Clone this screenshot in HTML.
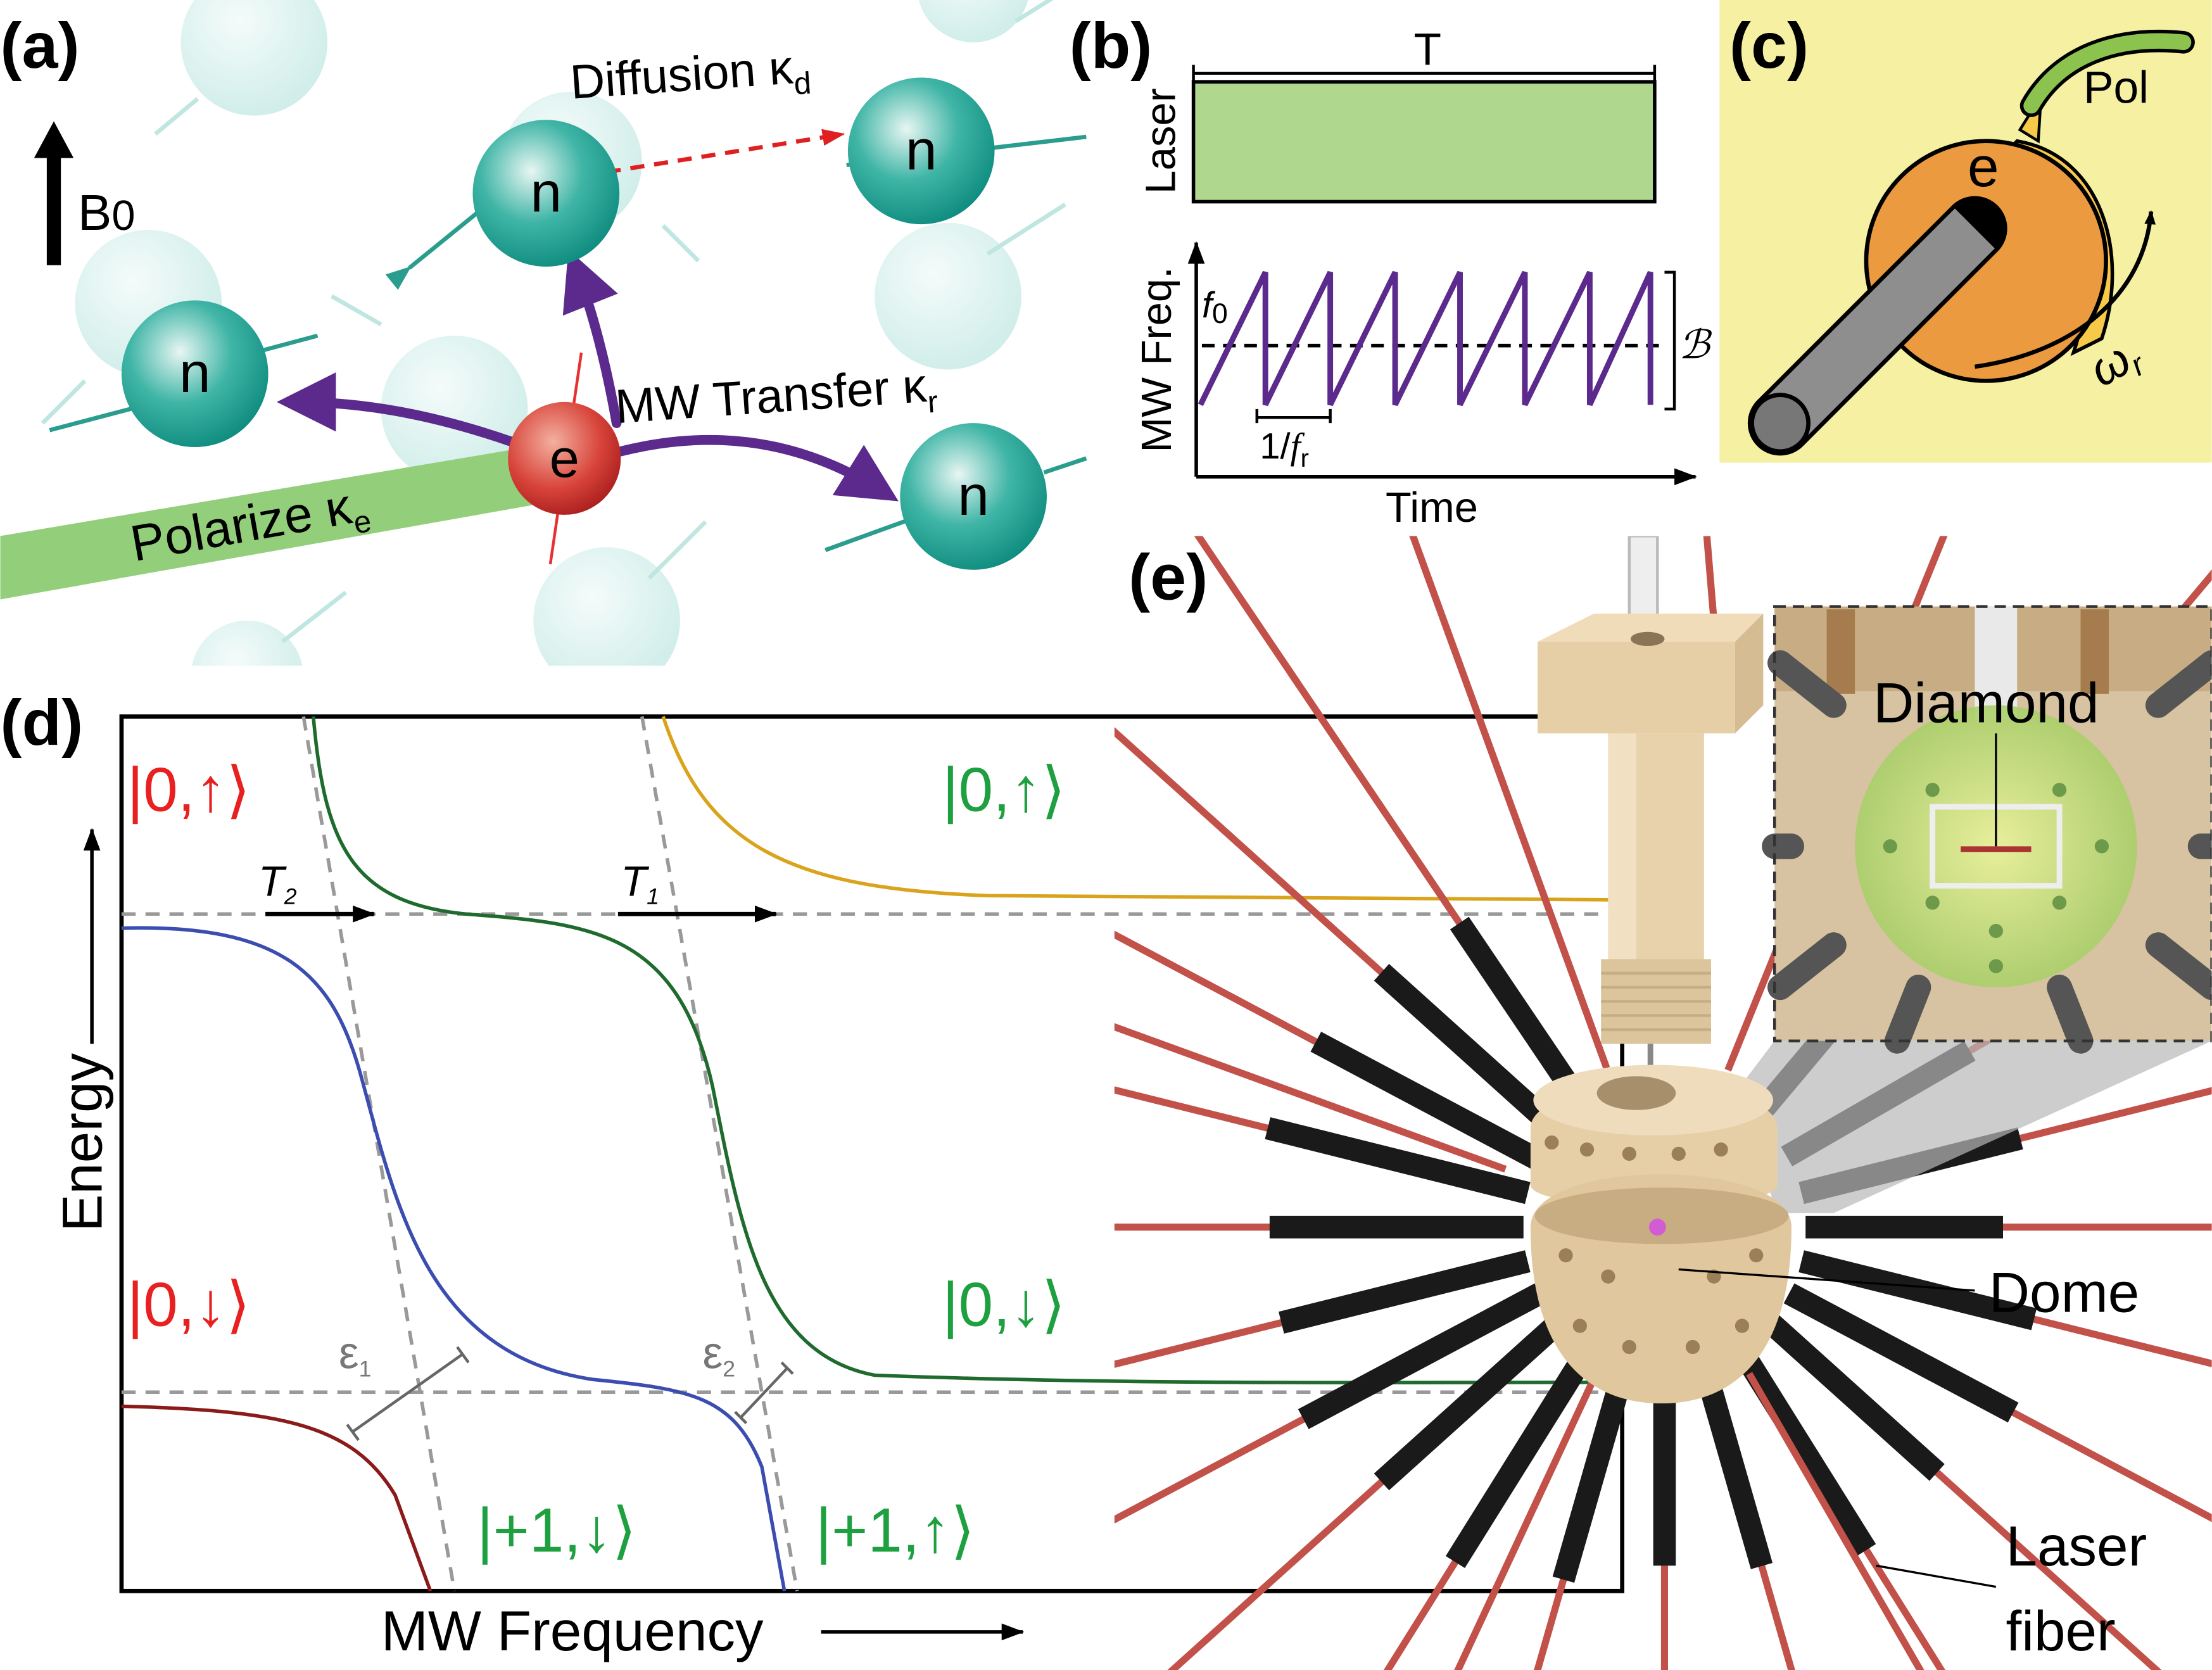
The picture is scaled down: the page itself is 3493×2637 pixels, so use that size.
<!DOCTYPE html>
<html><head><meta charset="utf-8"><style>html,body{margin:0;padding:0;background:#fff;overflow:hidden;width:3493px;height:2637px}svg{display:block}text{font-family:"Liberation Sans",sans-serif}</style></head>
<body>
<svg width="3493" height="2637" viewBox="0 0 1568 1184" xmlns="http://www.w3.org/2000/svg">
<defs>
<radialGradient id="tg" cx="0.4" cy="0.35" r="0.7"><stop offset="0" stop-color="#e8f6f3"/><stop offset="0.5" stop-color="#3fb5a6"/><stop offset="1" stop-color="#0c8a7d"/></radialGradient>
<radialGradient id="rg" cx="0.4" cy="0.35" r="0.7"><stop offset="0" stop-color="#f3b0a0"/><stop offset="0.6" stop-color="#d8443a"/><stop offset="1" stop-color="#a81d1d"/></radialGradient>
<radialGradient id="fg" cx="0.4" cy="0.35" r="0.7"><stop offset="0" stop-color="#f3fbfa"/><stop offset="1" stop-color="#c9ebe6"/></radialGradient>
<radialGradient id="gs" cx="0.5" cy="0.5" r="0.5"><stop offset="0" stop-color="#eaf39a"/><stop offset="1" stop-color="#a9cf6a"/></radialGradient>
<clipPath id="ce"><rect x="790" y="380" width="778" height="804"/></clipPath>
<clipPath id="ca"><rect x="0" y="0" width="780" height="472"/></clipPath>
<marker id="pa" markerWidth="6" markerHeight="6" refX="4" refY="3" orient="auto" markerUnits="strokeWidth"><path d="M0,0 L6,3 L0,6 Z" fill="#5b2a8c"/></marker>
<marker id="ka" markerWidth="10" markerHeight="8" refX="9" refY="4" orient="auto" markerUnits="userSpaceOnUse"><path d="M0,0 L10,4 L0,8 Z" fill="#000"/></marker>
<marker id="kb" markerWidth="16" markerHeight="12" refX="15" refY="6" orient="auto" markerUnits="userSpaceOnUse"><path d="M0,0 L16,6 L0,12 Z" fill="#000"/></marker>
<marker id="ra" markerWidth="16" markerHeight="12" refX="15" refY="6" orient="auto" markerUnits="userSpaceOnUse"><path d="M0,0 L16,6 L0,12 Z" fill="#e02020"/></marker>
<marker id="ta" markerWidth="18" markerHeight="14" refX="2" refY="7" orient="auto" markerUnits="userSpaceOnUse"><path d="M18,0 L0,7 L18,14 Z" fill="#2a9d8f"/></marker>
</defs>

<!-- Panel a -->
<g clip-path="url(#ca)">
<g fill="url(#fg)" opacity="0.9">
<circle cx="180" cy="30" r="52"/><circle cx="405" cy="115" r="50"/><circle cx="105" cy="215" r="52"/><circle cx="322" cy="290" r="52"/><circle cx="672" cy="210" r="52"/><circle cx="430" cy="440" r="52"/><circle cx="175" cy="480" r="40"/><circle cx="690" cy="-10" r="40"/>
</g>
<g stroke="#bfe6e0" stroke-width="3" fill="none">
<line x1="140" y1="70" x2="110" y2="95"/><line x1="470" y1="160" x2="495" y2="185"/><line x1="700" y1="180" x2="755" y2="145"/><line x1="270" y1="230" x2="235" y2="210"/><line x1="460" y1="410" x2="500" y2="370"/><line x1="200" y1="455" x2="245" y2="420"/><line x1="60" y1="270" x2="30" y2="300"/><line x1="720" y1="15" x2="760" y2="-10"/>
</g>
<polygon points="0,380 368,318 378,358 0,425" fill="#93cf7a"/>
<text x="95" y="398" font-size="36" transform="rotate(-10 95 398)">Polarize κ<tspan font-size="22" dy="8">e</tspan></text>
<line x1="380" y1="117" x2="290" y2="190" stroke="#2a9d8f" stroke-width="3" marker-end="url(#ta)"/>
<line x1="600" y1="117" x2="770" y2="97" stroke="#2a9d8f" stroke-width="3"/>
<line x1="130" y1="280" x2="35" y2="305" stroke="#2a9d8f" stroke-width="3"/>
<line x1="180" y1="250" x2="225" y2="238" stroke="#2a9d8f" stroke-width="3"/>
<line x1="690" y1="352" x2="585" y2="390" stroke="#2a9d8f" stroke-width="3"/>
<line x1="740" y1="335" x2="770" y2="325" stroke="#2a9d8f" stroke-width="3"/>
<line x1="430" y1="122" x2="598" y2="95" stroke="#e02020" stroke-width="3" stroke-dasharray="10,7" marker-end="url(#ra)"/>
<line x1="390" y1="400" x2="412" y2="250" stroke="#e83030" stroke-width="2"/>
<g stroke="#5b2a8c" stroke-width="7" fill="none" stroke-linecap="round">
<path d="M437,300 C430,260 420,220 408,190" marker-end="url(#pa)"/>
<path d="M362,313 C310,295 260,285 210,285" marker-end="url(#pa)"/>
<path d="M440,320 C520,300 580,320 625,348" marker-end="url(#pa)"/>
</g>
<circle cx="387" cy="137" r="52" fill="url(#tg)"/><text x="387" y="150" font-size="40" text-anchor="middle">n</text>
<circle cx="653" cy="107" r="52" fill="url(#tg)"/><text x="653" y="120" font-size="40" text-anchor="middle">n</text>
<circle cx="138" cy="265" r="52" fill="url(#tg)"/><text x="138" y="278" font-size="40" text-anchor="middle">n</text>
<circle cx="690" cy="352" r="52" fill="url(#tg)"/><text x="690" y="365" font-size="40" text-anchor="middle">n</text>
<circle cx="400" cy="325" r="40" fill="url(#rg)"/><text x="400" y="338" font-size="38" text-anchor="middle">e</text>
<text x="405" y="70" font-size="34" transform="rotate(-4 405 70)">Diffusion κ<tspan font-size="22" dy="8">d</tspan></text>
<text x="437" y="300" font-size="34" transform="rotate(-4 437 300)">MW Transfer κ<tspan font-size="22" dy="8">r</tspan></text>
<line x1="38" y1="188" x2="38" y2="110" stroke="#000" stroke-width="10"/>
<polygon points="24,112 38,86 52,112" fill="#000"/>
<text x="55" y="163" font-size="36">B<tspan font-size="30">0</tspan></text>
</g>
<text x="0" y="48" font-size="46" font-weight="bold">(a)</text>

<!-- Panel b -->
<text x="758" y="48" font-size="46" font-weight="bold">(b)</text>
<line x1="846" y1="52" x2="1173" y2="52" stroke="#000" stroke-width="2"/>
<line x1="846" y1="46" x2="846" y2="58" stroke="#000" stroke-width="2"/><line x1="1173" y1="46" x2="1173" y2="58" stroke="#000" stroke-width="2"/>
<text x="1012" y="46" font-size="32" text-anchor="middle">T</text>
<rect x="846" y="58" width="327" height="85" fill="#b0d78e" stroke="#000" stroke-width="2.5"/>
<text x="833" y="100" font-size="30" text-anchor="middle" transform="rotate(-90 833 100)">Laser</text>
<line x1="848" y1="338" x2="848" y2="172" stroke="#000" stroke-width="2.5" marker-end="url(#kb)"/>
<line x1="848" y1="338" x2="1202" y2="338" stroke="#000" stroke-width="2.5" marker-end="url(#kb)"/>
<text x="830" y="255" font-size="30" text-anchor="middle" transform="rotate(-90 830 255)">MW Freq.</text>
<line x1="852" y1="245" x2="1178" y2="245" stroke="#000" stroke-width="2.5" stroke-dasharray="9,6"/>
<polyline points="851,287 897,193 897,287 943,193 943,287 989,193 989,287 1035,193 1035,287 1081,193 1081,287 1127,193 1127,287 1170,193 1170,287" fill="none" stroke="#5b2a8c" stroke-width="4"/>
<path d="M1180,193 L1187,193 L1187,290 L1180,290" fill="none" stroke="#000" stroke-width="2"/>
<text x="1190" y="254" font-size="28" font-style="italic" font-family="Liberation Serif">ℬ</text>
<text x="852" y="225" font-size="26" font-style="italic" font-family="Liberation Serif">f<tspan font-size="20" font-style="normal" dy="4">0</tspan></text>
<path d="M891,290 L891,300 M891,296 L943,296 M943,290 L943,300" stroke="#000" stroke-width="2" fill="none"/>
<text x="893" y="325" font-size="26">1/<tspan font-style="italic" font-family="Liberation Serif">f</tspan><tspan font-size="18" dy="6">r</tspan></text>
<text x="1015" y="370" font-size="30" text-anchor="middle">Time</text>

<!-- Panel c -->
<rect x="1219" y="0" width="349" height="328" fill="#f6f0a2"/>
<text x="1226" y="48" font-size="46" font-weight="bold">(c)</text>
<path d="M1430,100 C1490,110 1510,180 1490,240 L1470,250 C1490,190 1470,130 1420,110 Z" fill="#f7c948" stroke="#000" stroke-width="2.5"/>
<circle cx="1408" cy="185" r="85" fill="#eb9a3f" stroke="#000" stroke-width="3"/>
<path d="M1432,92 L1447,68 L1445,100 Z" fill="#f7c948" stroke="#000" stroke-width="2"/>
<path d="M1440,75 C1460,40 1500,25 1548,30" fill="none" stroke="#000" stroke-width="16" stroke-linecap="round"/>
<path d="M1440,75 C1460,40 1500,25 1548,30" fill="none" stroke="#8cc34e" stroke-width="11" stroke-linecap="round"/>
<text x="1477" y="73" font-size="32">Pol</text>
<text x="1406" y="132" font-size="40" text-anchor="middle">e</text>
<line x1="1262" y1="300" x2="1400" y2="162" stroke="#000" stroke-width="46" stroke-linecap="round"/>
<line x1="1262" y1="300" x2="1400" y2="162" stroke="#8e8e8e" stroke-width="40" stroke-linecap="butt"/>
<ellipse cx="1262" cy="300" rx="20" ry="20" fill="#777" stroke="#000" stroke-width="3"/>
<path d="M1400,260 C1470,250 1520,210 1525,150" fill="none" stroke="#000" stroke-width="3" marker-end="url(#ka)"/>
<text x="1490" y="275" font-size="34" font-style="italic" font-family="Liberation Serif" transform="rotate(-30 1490 275)">ω<tspan font-size="22" dy="6">r</tspan></text>

<!-- Panel d -->
<text x="0" y="528" font-size="46" font-weight="bold">(d)</text>
<rect x="86" y="508" width="1064" height="620" fill="#fff" stroke="#000" stroke-width="3"/>
<g stroke="#999" stroke-width="2.5" stroke-dasharray="10,7" fill="none">
<line x1="86" y1="648" x2="1150" y2="648"/><line x1="86" y1="987" x2="1150" y2="987"/>
<line x1="215" y1="508" x2="322" y2="1128"/><line x1="455" y1="508" x2="565" y2="1128"/>
</g>
<g fill="none" stroke-width="2.5">
<path d="M86,658 C200,655 235,690 255,760 C280,850 300,960 420,978 C490,985 520,990 540,1040 L556,1128" stroke="#3b4db0"/>
<path d="M222,508 C230,600 250,640 330,648 C420,655 480,660 505,770 C525,870 540,960 620,975 C800,982 1000,980 1150,980" stroke="#1f6b2e"/>
<path d="M470,508 C500,600 560,630 700,635 L1150,638" stroke="#d9a31c"/>
<path d="M86,997 C200,1000 250,1010 280,1060 L305,1128" stroke="#8b1a1a"/>
</g>
<g stroke="#666" stroke-width="2"><line x1="250" y1="1015" x2="328" y2="960"/><line x1="246" y1="1010" x2="254" y2="1021"/><line x1="324" y1="955" x2="332" y2="966"/>
<line x1="525" y1="1005" x2="558" y2="970"/><line x1="521" y1="1001" x2="529" y2="1009"/><line x1="554" y1="966" x2="562" y2="974"/></g>
<text x="240" y="970" font-size="32" fill="#777" font-family="Liberation Serif">ε<tspan font-size="16" dy="6">1</tspan></text>
<text x="498" y="970" font-size="32" fill="#777" font-family="Liberation Serif">ε<tspan font-size="16" dy="6">2</tspan></text>
<line x1="188" y1="648" x2="265" y2="648" stroke="#000" stroke-width="3" marker-end="url(#kb)"/>
<line x1="438" y1="648" x2="550" y2="648" stroke="#000" stroke-width="3" marker-end="url(#kb)"/>
<text x="183" y="635" font-size="30" font-style="italic" font-family="Liberation Serif">T<tspan font-size="16" dy="6">2</tspan></text>
<text x="440" y="635" font-size="30" font-style="italic" font-family="Liberation Serif">T<tspan font-size="16" dy="6">1</tspan></text>
<g font-size="44">
<text x="90" y="575" fill="#e8201f">|0,<tspan font-weight="bold">↑</tspan>⟩</text>
<text x="668" y="575" fill="#1ea040">|0,<tspan font-weight="bold">↑</tspan>⟩</text>
<text x="90" y="940" fill="#e8201f">|0,<tspan font-weight="bold">↓</tspan>⟩</text>
<text x="668" y="940" fill="#1ea040">|0,<tspan font-weight="bold">↓</tspan>⟩</text>
<text x="338" y="1100" fill="#1ea040">|+1,<tspan font-weight="bold">↓</tspan>⟩</text>
<text x="578" y="1100" fill="#1ea040">|+1,<tspan font-weight="bold">↑</tspan>⟩</text>
</g>
<text x="72" y="810" font-size="40" text-anchor="middle" transform="rotate(-90 72 810)">Energy</text>
<line x1="65" y1="740" x2="65" y2="588" stroke="#000" stroke-width="2.5" marker-end="url(#kb)"/>
<text x="270" y="1170" font-size="40">MW Frequency</text>
<line x1="582" y1="1157" x2="725" y2="1157" stroke="#000" stroke-width="2.5" marker-end="url(#kb)"/>

<!-- Panel e -->
<text x="800" y="425" font-size="46" font-weight="bold">(e)</text>
<g clip-path="url(#ce)">
<g stroke-linecap="butt">
<g transform="rotate(0 1180 870)"><line x1="1300" y1="870" x2="2000" y2="870" stroke="#c2514a" stroke-width="5"/><line x1="1280" y1="870" x2="1420" y2="870" stroke="#1a1a1a" stroke-width="16"/></g>
<g transform="rotate(14 1180 870)"><line x1="1300" y1="870" x2="2000" y2="870" stroke="#c2514a" stroke-width="5"/><line x1="1280" y1="870" x2="1450" y2="870" stroke="#1a1a1a" stroke-width="16"/></g>
<g transform="rotate(28 1180 870)"><line x1="1300" y1="870" x2="2000" y2="870" stroke="#c2514a" stroke-width="5"/><line x1="1280" y1="870" x2="1460" y2="870" stroke="#1a1a1a" stroke-width="16"/></g>
<g transform="rotate(42 1180 870)"><line x1="1300" y1="870" x2="2000" y2="870" stroke="#c2514a" stroke-width="5"/><line x1="1280" y1="870" x2="1440" y2="870" stroke="#1a1a1a" stroke-width="16"/></g>
<g transform="rotate(58 1180 870)"><line x1="1300" y1="870" x2="2000" y2="870" stroke="#c2514a" stroke-width="5"/><line x1="1280" y1="870" x2="1450" y2="870" stroke="#1a1a1a" stroke-width="16"/></g>
<g transform="rotate(74 1180 870)"><line x1="1300" y1="870" x2="2000" y2="870" stroke="#c2514a" stroke-width="5"/><line x1="1280" y1="870" x2="1430" y2="870" stroke="#1a1a1a" stroke-width="16"/></g>
<g transform="rotate(90 1180 870)"><line x1="1300" y1="870" x2="2000" y2="870" stroke="#c2514a" stroke-width="5"/><line x1="1280" y1="870" x2="1420" y2="870" stroke="#1a1a1a" stroke-width="16"/></g>
<g transform="rotate(106 1180 870)"><line x1="1300" y1="870" x2="2000" y2="870" stroke="#c2514a" stroke-width="5"/><line x1="1280" y1="870" x2="1440" y2="870" stroke="#1a1a1a" stroke-width="16"/></g>
<g transform="rotate(122 1180 870)"><line x1="1300" y1="870" x2="2000" y2="870" stroke="#c2514a" stroke-width="5"/><line x1="1280" y1="870" x2="1460" y2="870" stroke="#1a1a1a" stroke-width="16"/></g>
<g transform="rotate(138 1180 870)"><line x1="1300" y1="870" x2="2000" y2="870" stroke="#c2514a" stroke-width="5"/><line x1="1280" y1="870" x2="1450" y2="870" stroke="#1a1a1a" stroke-width="16"/></g>
<g transform="rotate(152 1180 870)"><line x1="1300" y1="870" x2="2000" y2="870" stroke="#c2514a" stroke-width="5"/><line x1="1280" y1="870" x2="1470" y2="870" stroke="#1a1a1a" stroke-width="16"/></g>
<g transform="rotate(166 1180 870)"><line x1="1300" y1="870" x2="2000" y2="870" stroke="#c2514a" stroke-width="5"/><line x1="1280" y1="870" x2="1460" y2="870" stroke="#1a1a1a" stroke-width="16"/></g>
<g transform="rotate(180 1180 870)"><line x1="1300" y1="870" x2="2000" y2="870" stroke="#c2514a" stroke-width="5"/><line x1="1280" y1="870" x2="1460" y2="870" stroke="#1a1a1a" stroke-width="16"/></g>
<g transform="rotate(194 1180 870)"><line x1="1300" y1="870" x2="2000" y2="870" stroke="#c2514a" stroke-width="5"/><line x1="1280" y1="870" x2="1470" y2="870" stroke="#1a1a1a" stroke-width="16"/></g>
<g transform="rotate(208 1180 870)"><line x1="1300" y1="870" x2="2000" y2="870" stroke="#c2514a" stroke-width="5"/><line x1="1280" y1="870" x2="1460" y2="870" stroke="#1a1a1a" stroke-width="16"/></g>
<g transform="rotate(222 1180 870)"><line x1="1300" y1="870" x2="2000" y2="870" stroke="#c2514a" stroke-width="5"/><line x1="1280" y1="870" x2="1450" y2="870" stroke="#1a1a1a" stroke-width="16"/></g>
<g transform="rotate(236 1180 870)"><line x1="1300" y1="870" x2="2000" y2="870" stroke="#c2514a" stroke-width="5"/><line x1="1280" y1="870" x2="1440" y2="870" stroke="#1a1a1a" stroke-width="16"/></g>
<g transform="rotate(250 1180 870)"><line x1="1300" y1="870" x2="2000" y2="870" stroke="#c2514a" stroke-width="5"/></g>
<g transform="rotate(292 1180 870)"><line x1="1300" y1="870" x2="2000" y2="870" stroke="#c2514a" stroke-width="5"/></g>
<g transform="rotate(310 1180 870)"><line x1="1300" y1="870" x2="2000" y2="870" stroke="#c2514a" stroke-width="5"/><line x1="1280" y1="870" x2="1420" y2="870" stroke="#1a1a1a" stroke-width="16"/></g>
<g transform="rotate(330 1180 870)"><line x1="1300" y1="870" x2="2000" y2="870" stroke="#c2514a" stroke-width="5"/><line x1="1280" y1="870" x2="1430" y2="870" stroke="#1a1a1a" stroke-width="16"/></g>
<g transform="rotate(346 1180 870)"><line x1="1300" y1="870" x2="2000" y2="870" stroke="#c2514a" stroke-width="5"/><line x1="1280" y1="870" x2="1440" y2="870" stroke="#1a1a1a" stroke-width="16"/></g>
<g transform="rotate(200 1180 870)"><line x1="1300" y1="870" x2="2000" y2="870" stroke="#c2514a" stroke-width="5"/></g>
<g transform="rotate(60 1180 870)"><line x1="1300" y1="870" x2="2000" y2="870" stroke="#c2514a" stroke-width="5"/></g>
<g transform="rotate(115 1180 870)"><line x1="1300" y1="870" x2="2000" y2="870" stroke="#c2514a" stroke-width="5"/></g>
</g>
<rect x="1155" y="380" width="20" height="80" fill="#eee" stroke="#bbb" stroke-width="2"/>
<line x1="1210" y1="380" x2="1215" y2="440" stroke="#c2514a" stroke-width="5"/>
<polygon points="1090,455 1230,455 1230,520 1090,520" fill="#e6cfa6"/>
<polygon points="1090,455 1130,435 1250,435 1230,455" fill="#f0dcb8"/>
<polygon points="1230,455 1250,435 1250,500 1230,520" fill="#d6bc92"/>
<ellipse cx="1168" cy="453" rx="12" ry="5" fill="#8a7456"/>
<rect x="1140" y="520" width="68" height="160" fill="#e8d2ac"/>
<rect x="1140" y="520" width="20" height="160" fill="#f2e0c2"/>
<rect x="1135" y="680" width="78" height="60" fill="#dcc49c"/>
<g stroke="#c7ad85" stroke-width="2"><line x1="1135" y1="690" x2="1213" y2="690"/><line x1="1135" y1="700" x2="1213" y2="700"/><line x1="1135" y1="710" x2="1213" y2="710"/><line x1="1135" y1="720" x2="1213" y2="720"/><line x1="1135" y1="730" x2="1213" y2="730"/></g>
<line x1="1170" y1="740" x2="1170" y2="770" stroke="#888" stroke-width="4"/>
<polygon points="1230,775 1258,738 1568,738 1300,860 1260,860" fill="#b8b8b8" opacity="0.7"/>
<path d="M1085,800 C1085,760 1260,760 1260,800 L1260,840 C1260,860 1085,860 1085,840 Z" fill="#e6cfa6"/>
<ellipse cx="1172" cy="780" rx="85" ry="25" fill="#eedcbc"/>
<ellipse cx="1160" cy="775" rx="28" ry="12" fill="#a88f6c"/>
<path d="M1085,870 C1085,820 1270,820 1270,870 C1270,960 1230,995 1178,995 C1125,995 1085,960 1085,870 Z" fill="#e0c79d"/>
<ellipse cx="1178" cy="862" rx="90" ry="20" fill="#c9ad82"/>
<g fill="#9b7f58">
<circle cx="1100" cy="810" r="5"/><circle cx="1125" cy="815" r="5"/><circle cx="1155" cy="818" r="5"/><circle cx="1190" cy="818" r="5"/><circle cx="1220" cy="815" r="5"/>
<circle cx="1110" cy="890" r="5"/><circle cx="1140" cy="905" r="5"/><circle cx="1215" cy="905" r="5"/><circle cx="1245" cy="890" r="5"/>
<circle cx="1120" cy="940" r="5"/><circle cx="1155" cy="955" r="5"/><circle cx="1200" cy="955" r="5"/><circle cx="1235" cy="940" r="5"/>
</g>
<circle cx="1175" cy="870" r="6" fill="#d35bd3"/>
<line x1="1190" y1="900" x2="1400" y2="915" stroke="#000" stroke-width="1.5"/>
<line x1="1330" y1="1110" x2="1415" y2="1125" stroke="#000" stroke-width="1.5"/>
<rect x="1258" y="430" width="310" height="308" fill="#d7c3a1"/>
<rect x="1258" y="430" width="310" height="60" fill="#c8ad84"/>
<rect x="1295" y="432" width="20" height="60" fill="#a67c4e"/><rect x="1475" y="432" width="20" height="60" fill="#a67c4e"/>
<rect x="1400" y="430" width="30" height="80" fill="#e9e9e9"/>
<g stroke="#555" stroke-width="18" stroke-linecap="round">
<line x1="1300" y1="500" x2="1262" y2="470"/><line x1="1530" y1="500" x2="1568" y2="470"/>
<line x1="1270" y1="600" x2="1258" y2="600"/><line x1="1560" y1="600" x2="1568" y2="600"/>
<line x1="1300" y1="670" x2="1262" y2="700"/><line x1="1530" y1="670" x2="1568" y2="700"/>
<line x1="1360" y1="700" x2="1345" y2="738"/><line x1="1460" y1="700" x2="1475" y2="738"/>
</g>
<circle cx="1415" cy="600" r="100" fill="url(#gs)" opacity="0.9"/>
<g fill="#6d9a4a"><circle cx="1340" cy="600" r="5"/><circle cx="1370" cy="640" r="5"/><circle cx="1415" cy="660" r="5"/><circle cx="1460" cy="640" r="5"/><circle cx="1490" cy="600" r="5"/><circle cx="1370" cy="560" r="5"/><circle cx="1460" cy="560" r="5"/><circle cx="1415" cy="685" r="5"/></g>
<rect x="1370" y="572" width="90" height="56" fill="none" stroke="#eee" stroke-width="4"/>
<line x1="1390" y1="602" x2="1440" y2="602" stroke="#a33" stroke-width="4"/>
<line x1="1415" y1="520" x2="1415" y2="600" stroke="#000" stroke-width="1.5"/>
<rect x="1258" y="430" width="310" height="308" fill="none" stroke="#333" stroke-width="2" stroke-dasharray="8,5"/>
</g>
<text x="1328" y="512" font-size="40">Diamond</text>
<text x="1410" y="930" font-size="40">Dome</text>
<text x="1422" y="1110" font-size="40">Laser</text>
<text x="1422" y="1170" font-size="40">fiber</text>
</svg>
</body></html>
